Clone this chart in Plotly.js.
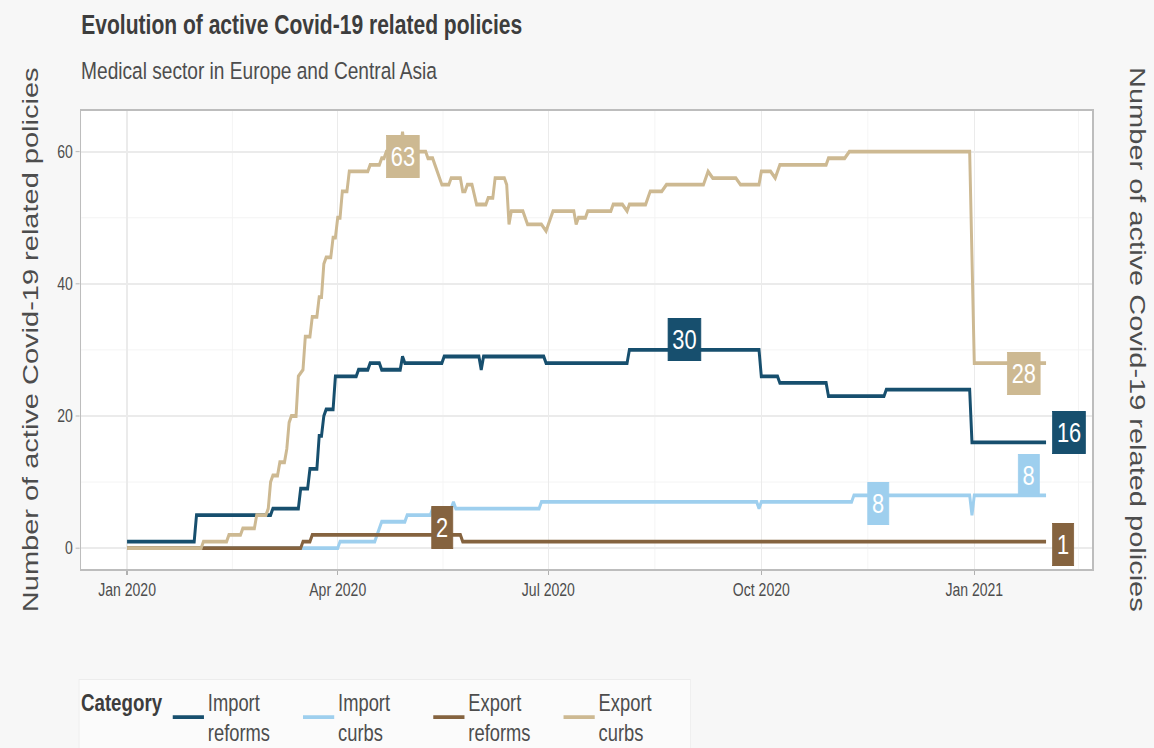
<!DOCTYPE html>
<html><head><meta charset="utf-8">
<script src="https://cdn.plot.ly/plotly-3.0.1.min.js"></script>
<style>
html,body{margin:0;padding:0;background:#f7f7f7;overflow:hidden;}
#wrap{width:1154px;height:748px;overflow:hidden;position:relative;}
#chart{height:748px;transform-origin:0 0;}
</style>
</head><body><div id="wrap"><div id="chart"></div></div>
<script>
// ---- data ----
const categories = ['Import reforms', 'Import curbs', 'Export reforms', 'Export curbs'];

const importReformsDates = ['2020-01-01','2020-01-30','2020-01-31','2020-03-03','2020-03-04','2020-03-15','2020-03-16','2020-03-19','2020-03-20','2020-03-23','2020-03-24','2020-03-25','2020-03-26','2020-03-27','2020-03-30','2020-03-31','2020-04-09','2020-04-10','2020-04-14','2020-04-15','2020-04-19','2020-04-20','2020-04-28','2020-04-29','2020-04-30','2020-05-16','2020-05-17','2020-06-01','2020-06-02','2020-06-03','2020-06-29','2020-06-30','2020-08-04','2020-08-05','2020-09-30','2020-10-01','2020-10-08','2020-10-09','2020-10-29','2020-10-30','2020-11-23','2020-11-24','2020-12-30','2020-12-31','2021-02-01'];
const importReformsValues = [1,1,5,5,6,6,9,9,12,12,17,17,20,21,21,26,26,27,27,28,28,27,27,29,28,28,29,29,27,29,29,28,28,30,30,26,26,25,25,23,23,24,24,16,16];

const importCurbsDates = ['2020-01-01','2020-04-01','2020-04-02','2020-04-17','2020-04-20','2020-04-30','2020-05-01','2020-05-11','2020-05-12','2020-05-20','2020-05-21','2020-05-22','2020-06-27','2020-06-28','2020-09-29','2020-09-30','2020-10-01','2020-11-09','2020-11-10','2020-12-30','2020-12-31','2021-01-01','2021-02-01'];
const importCurbsValues = [0,0,1,1,4,4,5,5,6,6,7,6,6,7,7,6,7,7,8,8,5,8,8];

const exportReformsDates = ['2020-01-01','2020-03-16','2020-03-17','2020-03-20','2020-03-21','2020-05-24','2020-05-25','2021-02-01'];
const exportReformsValues = [0,0,1,1,2,2,1,1];

const exportCurbsDates = ['2020-01-01','2020-02-02','2020-02-03','2020-02-13','2020-02-14','2020-02-19','2020-02-20','2020-02-25','2020-02-26','2020-03-01','2020-03-02','2020-03-03','2020-03-04','2020-03-06','2020-03-07','2020-03-09','2020-03-10','2020-03-11','2020-03-12','2020-03-14','2020-03-15','2020-03-17','2020-03-18','2020-03-20','2020-03-21','2020-03-23','2020-03-24','2020-03-25','2020-03-26','2020-03-27','2020-03-29','2020-03-30','2020-03-31','2020-04-01','2020-04-02','2020-04-03','2020-04-05','2020-04-06','2020-04-14','2020-04-15','2020-04-19','2020-04-20','2020-04-21','2020-04-22','2020-04-28','2020-04-29','2020-04-30','2020-05-09','2020-05-10','2020-05-12','2020-05-13','2020-05-15','2020-05-16','2020-05-19','2020-05-20','2020-05-24','2020-05-25','2020-05-26','2020-05-27','2020-05-29','2020-05-31','2020-06-04','2020-06-05','2020-06-07','2020-06-08','2020-06-12','2020-06-13','2020-06-14','2020-06-15','2020-06-20','2020-06-22','2020-06-28','2020-06-30','2020-07-03','2020-07-12','2020-07-13','2020-07-14','2020-07-17','2020-07-18','2020-07-28','2020-07-29','2020-08-02','2020-08-04','2020-08-05','2020-08-12','2020-08-14','2020-08-19','2020-08-21','2020-09-06','2020-09-08','2020-09-10','2020-09-20','2020-09-22','2020-09-30','2020-10-01','2020-10-05','2020-10-07','2020-10-09','2020-10-29','2020-10-30','2020-11-06','2020-11-08','2020-12-30','2021-01-01','2021-02-01'];
const exportCurbsValues = [0,0,1,1,2,2,3,3,5,5,6,10,11,11,13,13,15,19,20,20,26,27,32,32,35,35,38,38,43,44,44,47,47,50,50,54,54,57,57,58,58,59,59,60,60,63,60,60,59,59,58,56,55,55,56,56,54,54,55,55,52,52,53,53,56,56,55,49,51,51,49,49,48,51,51,49,50,50,51,51,52,52,51,52,52,54,54,55,55,57,56,56,55,55,57,57,56,58,58,59,59,60,60,28,28];

const xTickDates = ['2020-01-01','2020-04-01','2020-07-01','2020-10-01','2021-01-01'];
const xTickLabels = ['Jan 2020','Apr 2020','Jul 2020','Oct 2020','Jan 2021'];
const xMinorDates = ['2020-02-15 12:00','2020-05-16 12:00','2020-08-16','2020-11-16','2021-02-15'];
const yTicks = [0, 20, 40, 60];
const yMinor = [10, 30, 50];

// ---- styling ----
// the reference picture is horizontally condensed; draw wider and condense with CSS
const S = 0.78;
const W = 1154 / S;
document.getElementById('chart').style.width = W + 'px';
document.getElementById('chart').style.transform = 'scaleX(' + S + ')';

const colors = ['#174f6e', '#9ecfee', '#85633f', '#cdb992'];
const FONT = '"Liberation Sans", Arial, Helvetica, sans-serif';
const seriesDates = [importReformsDates, importCurbsDates, exportReformsDates, exportCurbsDates];
const seriesValues = [importReformsValues, importCurbsValues, exportReformsValues, exportCurbsValues];
const legendNames = ['Import<br>reforms', 'Import<br>curbs', 'Export<br>reforms', 'Export<br>curbs'];

const traces = categories.map((c, i) => ({
  type: 'scatter', mode: 'lines', name: legendNames[i],
  x: seriesDates[i], y: seriesValues[i],
  line: {color: colors[i], width: 3.8, shape: 'linear'},
  hovertemplate: c + ': %{y}<extra></extra>'
}));

// value labels: max and last value of each series (offsets given in picture pixels)
function maxIdx(v) { let m = 0; v.forEach((x, i) => { if (x > v[m]) m = i; }); return m; }
function label(si, idx, xs, ys) {
  return {
    x: seriesDates[si][idx], y: seriesValues[si][idx], xref: 'x', yref: 'y',
    text: String(seriesValues[si][idx]), showarrow: false, xshift: xs / S, yshift: ys,
    font: {family: FONT, size: 28, color: '#ffffff'},
    bgcolor: colors[si], bordercolor: colors[si], borderwidth: 1, borderpad: 5
  };
}
const last = a => a.length - 1;
const valueLabels = [
  label(3, maxIdx(exportCurbsValues), 0, -25),
  label(0, maxIdx(importReformsValues), 55, 10),
  label(2, maxIdx(exportReformsValues), 130, 7),
  label(1, maxIdx(importCurbsValues), 24, -8),
  label(3, last(exportCurbsValues), -22, -10),
  label(0, last(importReformsValues), 23, 10),
  label(1, last(importCurbsValues), -17, 20),
  label(2, last(exportReformsValues), 17, -3)
];

const PL = 81.5, PR = 1092, PT = 111, PB = 569;
const py = px => (PB - px) / (PB - PT);
const pxr = px => (px - PL) / (PR - PL);

const textAnn = [
  {text: '<b>Evolution of active Covid-19 related policies</b>', xref: 'paper', yref: 'paper',
   x: pxr(80), y: py(25), xanchor: 'left', yanchor: 'middle', showarrow: false,
   font: {family: FONT, size: 27, color: '#3d3d3d'}},
  {text: 'Medical sector in Europe and Central Asia', xref: 'paper', yref: 'paper',
   x: pxr(80), y: py(70), xanchor: 'left', yanchor: 'middle', showarrow: false,
   font: {family: FONT, size: 24.5, color: '#4d4d4d'}},
  {text: 'Number of active Covid-19 related policies', xref: 'paper', yref: 'paper',
   x: pxr(31), y: 0.5, xanchor: 'center', yanchor: 'middle', textangle: -90, showarrow: false,
   font: {family: FONT, size: 29, color: '#4d4d4d'}},
  {text: 'Number of active Covid-19 related policies', xref: 'paper', yref: 'paper',
   x: pxr(1138), y: 0.5, xanchor: 'center', yanchor: 'middle', textangle: 90, showarrow: false,
   font: {family: FONT, size: 29, color: '#4d4d4d'}}
];

const tickFont = {family: FONT, size: 18, color: '#4d4d4d'};
const yCommon = {
  range: [-3.15, 66.15], tickmode: 'array', tickvals: yTicks, ticktext: yTicks.map(String),
  ticks: 'outside', ticklen: 4 / S, tickcolor: '#b0b0b0', tickwidth: 1.2,
  tickfont: tickFont, zeroline: false, fixedrange: true
};

const layout = {
  width: W, height: 748,
  paper_bgcolor: '#f7f7f7', plot_bgcolor: '#ffffff',
  margin: {l: PL / S, r: (1154 - PR) / S, t: PT, b: 748 - PB, autoexpand: false},
  showlegend: true,
  xaxis: {
    type: 'date', range: ['2019-12-12 03:36', '2021-02-20 20:24'],
    tickmode: 'array', tickvals: xTickDates, ticktext: xTickLabels,
    ticks: 'outside', ticklen: 4, tickcolor: '#b0b0b0', tickwidth: 1.5,
    tickfont: tickFont, showgrid: true, gridcolor: '#ebebeb', gridwidth: 2,
    minor: {tickmode: 'array', tickvals: xMinorDates, showgrid: true, gridcolor: '#f3f3f3', gridwidth: 1.3, ticks: ''},
    showline: true, mirror: true, linecolor: '#bdbdbd', linewidth: 1.5, zeroline: false
  },
  yaxis: Object.assign({}, yCommon, {
    showgrid: true, gridcolor: '#ebebeb', gridwidth: 1.6,
    minor: {tickmode: 'array', tickvals: yMinor, showgrid: true, gridcolor: '#f3f3f3', gridwidth: 1, ticks: ''},
    showline: true, mirror: true, linecolor: '#bdbdbd', linewidth: 1.8
  }),
  yaxis2: Object.assign({}, yCommon, {
    overlaying: 'y', side: 'right', showgrid: false, showline: false
  }),
  legend: {
    orientation: 'h', x: pxr(79), xanchor: 'left', y: py(679), yanchor: 'top',
    bgcolor: '#fbfbfb', bordercolor: '#ececec', borderwidth: 1,
    font: {family: FONT, size: 23.5, color: '#4d4d4d'},
    title: {text: '<b>Category</b>', font: {family: FONT, size: 24, color: '#3d3d3d'}, side: 'left'},
    itemwidth: 40, traceorder: 'normal', valign: 'middle',
    entrywidth: 112, entrywidthmode: 'pixels'
  },
  annotations: textAnn.concat(valueLabels),
  hovermode: 'closest'
};

Plotly.newPlot('chart', traces, layout, {displayModeBar: false});
</script></body></html>
